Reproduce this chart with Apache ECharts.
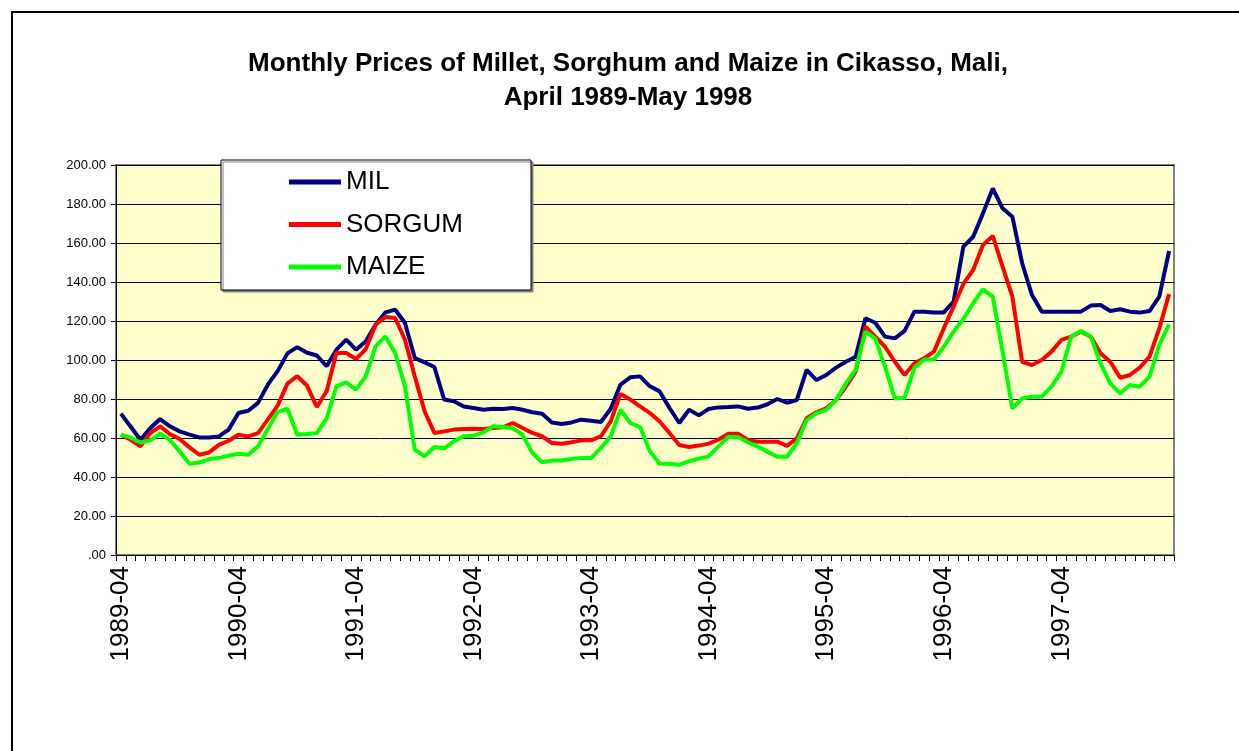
<!DOCTYPE html>
<html>
<head>
<meta charset="utf-8">
<script src="https://cdn.jsdelivr.net/npm/echarts@6/dist/echarts.min.js"></script>
<style>
  html, body { margin: 0; padding: 0; background: #fff; }
  #main { width: 1239px; height: 751px; }
</style>
</head>
<body>
<div id="main"></div>
<script>
// months from 1989-04, one per point
var months = [];
for (var k = 0; k < 108; k++) {
  var y = 1989 + Math.floor((3 + k) / 12);
  var m = ((3 + k) % 12) + 1;
  months.push(y + "-" + (m < 10 ? "0" + m : m));
}

var mil = [
  72.5, 65.8, 59.1, 65.1, 69.7, 66.0, 63.4, 61.7, 60.3, 60.3, 60.8, 64.3,
  72.8, 74.0, 78.0, 87.4, 94.3, 103.4, 106.6, 103.7, 102.3, 96.8, 105.3, 110.4,
  105.3, 109.6, 118.1, 124.4, 125.8, 119.0, 101.0, 98.8, 96.4, 79.7, 78.8, 76.2,
  75.4, 74.5, 75.0, 74.9, 75.4, 74.5, 73.2, 72.4, 68.0, 67.2, 68.0, 69.4,
  68.9, 68.2, 75.0, 87.4, 91.1, 91.6, 86.5, 83.9, 75.4, 67.7, 74.5, 71.6,
  74.9, 75.7, 75.9, 76.2, 75.0, 75.6, 77.3, 80.0, 78.1, 79.5, 94.9, 89.7,
  92.3, 96.1, 99.1, 101.7, 121.4, 119.1, 112.0, 111.1, 114.9, 124.8, 124.8, 124.4,
  124.4, 129.9, 158.1, 163.2, 175.2, 188.0, 177.8, 173.5, 149.6, 133.3, 124.8, 124.8,
  124.8, 124.8, 124.8, 127.9, 128.2, 125.1, 126.0, 124.8, 124.3, 125.1, 132.5, 155.9
];
var sorgum = [
  61.7, 59.1, 55.7, 62.5, 66.0, 62.0, 59.5, 55.2, 51.4, 52.6, 56.5, 58.6,
  61.7, 60.8, 62.5, 69.4, 76.6, 87.9, 91.7, 86.9, 75.9, 84.0, 103.6, 103.6,
  100.5, 105.6, 118.1, 122.0, 121.5, 110.4, 91.6, 73.7, 62.6, 63.4, 64.3, 64.6,
  64.8, 64.6, 65.1, 65.5, 67.7, 65.1, 62.6, 60.9, 57.4, 57.1, 57.8, 58.8,
  58.8, 60.9, 68.5, 82.6, 79.7, 76.2, 72.8, 68.5, 62.6, 56.4, 55.4, 56.1,
  57.1, 59.1, 62.2, 62.2, 59.0, 58.1, 58.1, 58.1, 56.0, 59.8, 70.1, 73.2,
  75.2, 79.5, 86.3, 94.0, 117.1, 112.0, 106.8, 99.1, 92.3, 98.3, 100.9, 104.3,
  116.2, 127.4, 139.0, 146.2, 159.0, 163.6, 147.9, 132.5, 99.1, 97.4, 100.0, 104.3,
  110.3, 112.0, 114.5, 112.0, 103.4, 99.1, 90.9, 92.3, 96.1, 101.7, 116.2, 133.8
];
var maize = [
  61.7, 60.3, 57.7, 58.8, 62.2, 59.1, 53.1, 46.8, 47.4, 49.2, 49.7, 50.9,
  51.9, 51.4, 55.7, 64.6, 73.3, 75.0, 61.7, 62.0, 62.5, 70.0, 86.5, 88.5,
  84.8, 91.6, 107.0, 112.1, 103.6, 86.5, 54.0, 50.6, 55.4, 54.7, 58.3, 60.9,
  61.2, 62.9, 66.0, 65.6, 65.1, 61.7, 52.3, 47.6, 48.4, 48.5, 49.2, 49.7,
  49.7, 54.9, 60.9, 74.5, 67.7, 65.6, 53.2, 46.8, 46.8, 46.3, 48.0, 49.4,
  50.6, 55.7, 60.5, 60.5, 57.8, 55.6, 53.0, 50.4, 50.4, 57.3, 69.2, 72.6,
  74.4, 79.5, 88.0, 94.9, 114.5, 111.1, 96.6, 80.3, 80.7, 96.1, 100.3, 100.3,
  106.8, 114.5, 121.0, 129.1, 136.2, 132.5, 104.3, 75.2, 80.3, 81.2, 81.2, 86.3,
  94.0, 112.0, 114.9, 112.0, 98.3, 88.0, 82.9, 87.2, 86.3, 91.5, 107.7, 118.3
];

var font = "'Liberation Sans', Arial, sans-serif";
var chart = echarts.init(document.getElementById("main"));

function line(name, data, color) {
  return {
    name: name,
    type: "line",
    data: data,
    symbol: "none",
    lineStyle: { color: color, width: 4 },
    itemStyle: { color: color },
    z: 3
  };
}

chart.setOption({
  animation: false,
  backgroundColor: "#fff",
  title: {
    text: "Monthly Prices of Millet, Sorghum and Maize in Cikasso, Mali,\nApril 1989-May 1998",
    left: 628,
    top: 47,
    padding: 0,
    textAlign: "center",
    textStyle: { fontFamily: font, fontSize: 26, fontWeight: "bold", color: "#000", lineHeight: 34 }
  },
  graphic: [{
    type: "rect",
    shape: { x: 12, y: 12, width: 1240, height: 760 },
    style: { fill: "none", stroke: "#000", lineWidth: 2 },
    silent: true
  }],
  legend: {
    orient: "vertical",
    left: 221,
    top: 160,
    icon: "rect",
    itemWidth: 52,
    itemHeight: 5,
    itemGap: 16.5,
    padding: [9, 68, 10, 68],
    backgroundColor: "#fff",
    borderColor: "#000",
    borderWidth: 1,
    shadowColor: "#808080",
    shadowOffsetX: 2,
    shadowOffsetY: 2,
    textStyle: { fontFamily: font, fontSize: 26, color: "#000" },
    data: ["MIL", "SORGUM", "MAIZE"],
    z: 10
  },
  grid: {
    left: 116,
    top: 165,
    right: 65,
    bottom: 196,
    show: true,
    backgroundColor: "#FFFFCC",
    borderColor: "#808080",
    borderWidth: 2
  },
  xAxis: {
    type: "category",
    data: months,
    boundaryGap: true,
    axisLine: { lineStyle: { color: "#000", width: 1 } },
    axisTick: { show: true, interval: 0, length: 6, lineStyle: { color: "#000" } },
    axisLabel: {
      interval: 11,
      rotate: 90,
      margin: 11,
      fontFamily: font,
      fontSize: 26,
      color: "#000"
    },
    splitLine: { show: false }
  },
  yAxis: {
    type: "value",
    min: 0,
    max: 200,
    interval: 20,
    axisLine: { show: true, lineStyle: { color: "#000", width: 1 } },
    axisTick: { show: true, length: 5, lineStyle: { color: "#000" } },
    axisLabel: {
      margin: 10,
      fontFamily: font,
      fontSize: 13,
      color: "#000",
      formatter: function (v) { return v === 0 ? ".00" : v.toFixed(2); }
    },
    splitLine: { show: true, lineStyle: { color: "#000", width: 1 } }
  },
  series: [
    line("MIL", mil, "#000080"),
    line("SORGUM", sorgum, "#FF0000"),
    line("MAIZE", maize, "#00FF00")
  ]
});
</script>
</body>
</html>
